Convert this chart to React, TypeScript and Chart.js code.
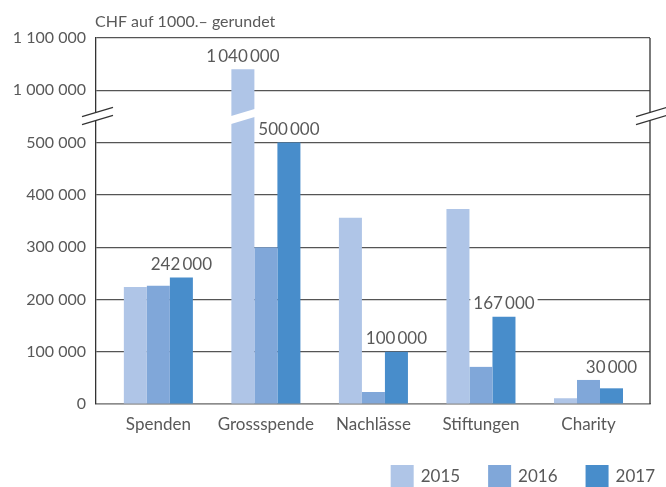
import React, { useEffect, useRef } from "react";
import { Chart, registerables } from "chart.js";

Chart.register(...registerables);

const categories = ["Spenden", "Grossspende", "Nachlässe", "Stiftungen", "Charity"];
const seriesLabels = ["2015", "2016", "2017"];
const values2015 = [224000, 1040000, 356000, 373000, 11000];
const values2016 = [226000, 300000, 23000, 71000, 46000];
const values2017 = [242000, 500000, 100000, 167000, 30000];
const seriesColors = ["#AFC5E7", "#80A7D9", "#488DCB"];
const yTickValues = [0, 100000, 200000, 300000, 400000, 500000, 1000000, 1100000];
const axisTitle = "CHF auf 1000.– gerundet";
// [datasetIndex, categoryIndex] of bars that carry a value label
const labelledBars: [number, number][] = [[0, 1], [2, 0], [2, 1], [2, 2], [2, 3], [2, 4]];

// axis break: real values from BREAK_REAL upward are shifted down by BREAK_SHIFT
const BREAK_REAL = 950000;
const BREAK_SHIFT = 400000;
const BREAK_AXIS = 550000; // position (axis units) of the break marks

const toAxis = (v: number) => (v >= BREAK_REAL ? v - BREAK_SHIFT : v);
const toReal = (v: number) => (v > BREAK_AXIS ? v + BREAK_SHIFT : v);
const fmt = (v: number, sep: string) =>
  Math.round(v).toString().replace(/\B(?=(\d{3})+(?!\d))/g, sep);

const FONT = "Lato, 'Open Sans', sans-serif";
const TEXT = "#595959";
const allValues = [values2015, values2016, values2017];

function labelBoxes(chart: any) {
  const ctx = chart.ctx;
  ctx.save();
  ctx.font = `17px ${FONT}`;
  const allBars: any[] = [];
  chart.data.datasets.forEach((_: any, di: number) => {
    chart.getDatasetMeta(di).data.forEach((el: any) => allBars.push(el));
  });
  const out = labelledBars
    .map(([di, ci]) => {
      const el = chart.getDatasetMeta(di).data[ci];
      if (!el) return null;
      const txt = fmt(allValues[di][ci], "\u2009");
      const tw = ctx.measureText(txt).width;
      let y = el.y - 13;
      allBars.forEach((b) => {
        if (b === el) return;
        const l = b.x - b.width / 2;
        const r = b.x + b.width / 2;
        if (r > el.x - tw / 2 && l < el.x + tw / 2) {
          y = Math.min(y, b.y - 12);
        }
      });
      return { txt, x: el.x, y, tw };
    })
    .filter(Boolean);
  ctx.restore();
  return out as { txt: string; x: number; y: number; tw: number }[];
}

const decorPlugin = {
  id: "decor",
  beforeDatasetsDraw(chart: any) {
    const ctx = chart.ctx;
    ctx.save();
    ctx.fillStyle = "#ffffff";
    labelBoxes(chart).forEach((b) => {
      ctx.fillRect(b.x - b.tw / 2 - 3, b.y - 8, b.tw + 6, 16);
    });
    ctx.restore();
  },
  afterDatasetsDraw(chart: any) {
    const ctx = chart.ctx;
    const y = chart.scales.y;
    const yb = y.getPixelForValue(BREAK_AXIS);
    ctx.save();
    // break inside the tall bar
    const bar = chart.getDatasetMeta(0).data[1];
    if (bar) {
      const w = bar.width;
      const x0 = bar.x - w / 2 - 1;
      const x1 = bar.x + w / 2 + 1;
      const slope = -0.3;
      ctx.fillStyle = "#ffffff";
      ctx.beginPath();
      ctx.moveTo(x0, yb - 4 + (x0 - bar.x) * slope);
      ctx.lineTo(x1, yb - 4 + (x1 - bar.x) * slope);
      ctx.lineTo(x1, yb + 4 + (x1 - bar.x) * slope);
      ctx.lineTo(x0, yb + 4 + (x0 - bar.x) * slope);
      ctx.closePath();
      ctx.fill();
    }
    // value labels
    ctx.font = `17px ${FONT}`;
    ctx.textAlign = "center";
    ctx.textBaseline = "middle";
    ctx.fillStyle = TEXT;
    labelBoxes(chart).forEach((b) => ctx.fillText(b.txt, b.x, b.y));
    ctx.restore();
  },
  afterDraw(chart: any) {
    const ctx = chart.ctx;
    const area = chart.chartArea;
    const y = chart.scales.y;
    const yb = y.getPixelForValue(BREAK_AXIS);
    ctx.save();
    // right border
    ctx.strokeStyle = "#333333";
    ctx.lineWidth = 1.3;
    ctx.beginPath();
    ctx.moveTo(area.right, area.top);
    ctx.lineTo(area.right, area.bottom);
    ctx.stroke();
    // axis break marks on both sides
    const slope = -0.3;
    [area.left, area.right].forEach((cx) => {
      const xa = cx - 14;
      const xb = cx + 17;
      ctx.fillStyle = "#ffffff";
      ctx.beginPath();
      ctx.moveTo(xa, yb - 4 + (xa - cx) * slope);
      ctx.lineTo(xb, yb - 4 + (xb - cx) * slope);
      ctx.lineTo(xb, yb + 4 + (xb - cx) * slope);
      ctx.lineTo(xa, yb + 4 + (xa - cx) * slope);
      ctx.closePath();
      ctx.fill();
      ctx.strokeStyle = "#333333";
      ctx.lineWidth = 1.2;
      [-4, 4].forEach((d) => {
        ctx.beginPath();
        ctx.moveTo(xa, yb + d + (xa - cx) * slope);
        ctx.lineTo(xb, yb + d + (xb - cx) * slope);
        ctx.stroke();
      });
    });
    // title
    ctx.font = `16px ${FONT}`;
    ctx.fillStyle = TEXT;
    ctx.textAlign = "left";
    ctx.textBaseline = "middle";
    ctx.fillText(axisTitle, area.left - 1, 22);
    // legend (bottom right)
    ctx.font = `17px ${FONT}`;
    const box = 23;
    const gapText = 7;
    const gapItem = 28;
    const widths = seriesLabels.map((l) => box + gapText + ctx.measureText(l).width);
    const total = widths.reduce((a, b) => a + b, 0) + gapItem * (widths.length - 1);
    let x = area.right + 5 - total;
    const ly = 476;
    seriesLabels.forEach((l, i) => {
      ctx.fillStyle = seriesColors[i];
      ctx.fillRect(x, ly - 11, box, 22);
      ctx.fillStyle = TEXT;
      ctx.fillText(l, x + box + gapText, ly + 1);
      x += widths[i] + gapItem;
    });
    ctx.restore();
  },
};

export default function App() {
  const ref = useRef<HTMLCanvasElement | null>(null);
  useEffect(() => {
    if (!ref.current) return;
    const chart = new Chart(ref.current, {
      type: "bar",
      data: {
        datasets: seriesLabels.map((l, i) => ({
          label: l,
          data: allValues[i].map((v, ci) => ({ x: ci, y: toAxis(v) })),
          backgroundColor: seriesColors[i],
          borderWidth: 0,
          categoryPercentage: 0.642,
          barPercentage: 1,
        })),
      },
      options: {
        animation: false,
        responsive: false,
        maintainAspectRatio: false,
        layout: { padding: { left: 0, right: 16, top: 38, bottom: 0 } },
        plugins: {
          legend: { display: false },
          tooltip: { enabled: false },
          title: { display: false },
        },
        scales: {
          x: {
            type: "linear",
            min: -0.58,
            max: categories.length - 1 + 0.572,
            offset: false,
            grid: { display: false, drawTicks: false },
            border: { display: true, color: "#8c8c8c", width: 1.5 },
            afterBuildTicks: (s: any) => {
              s.ticks = categories.map((_, i) => ({ value: i }));
            },
            ticks: {
              color: TEXT,
              font: { family: FONT, size: 17 },
              padding: 10,
              autoSkip: false,
              maxRotation: 0,
              callback: (v: any) => categories[Number(v)] ?? "",
            },
            afterFit: (s: any) => {
              s.height = 83;
            },
          },
          y: {
            min: 0,
            max: toAxis(1100000),
            grid: { color: "#555555", lineWidth: 1.2, drawTicks: false },
            border: { display: true, color: "#333333", width: 1.3 },
            afterBuildTicks: (s: any) => {
              s.ticks = yTickValues.map((v) => ({ value: toAxis(v) }));
            },
            ticks: {
              color: TEXT,
              font: { family: FONT, size: 16 },
              padding: 10,
              callback: (v: any) => fmt(toReal(Number(v)), " "),
            },
            afterFit: (s: any) => {
              s.width = 96;
            },
          },
        },
      },
      plugins: [decorPlugin],
    });
    return () => chart.destroy();
  }, []);
  return (
    <div style={{ position: "fixed", left: 0, top: 0, width: 666, height: 487, background: "#fff" }}>
      <canvas ref={ref} width={666} height={487} style={{ display: "block" }} />
    </div>
  );
}
